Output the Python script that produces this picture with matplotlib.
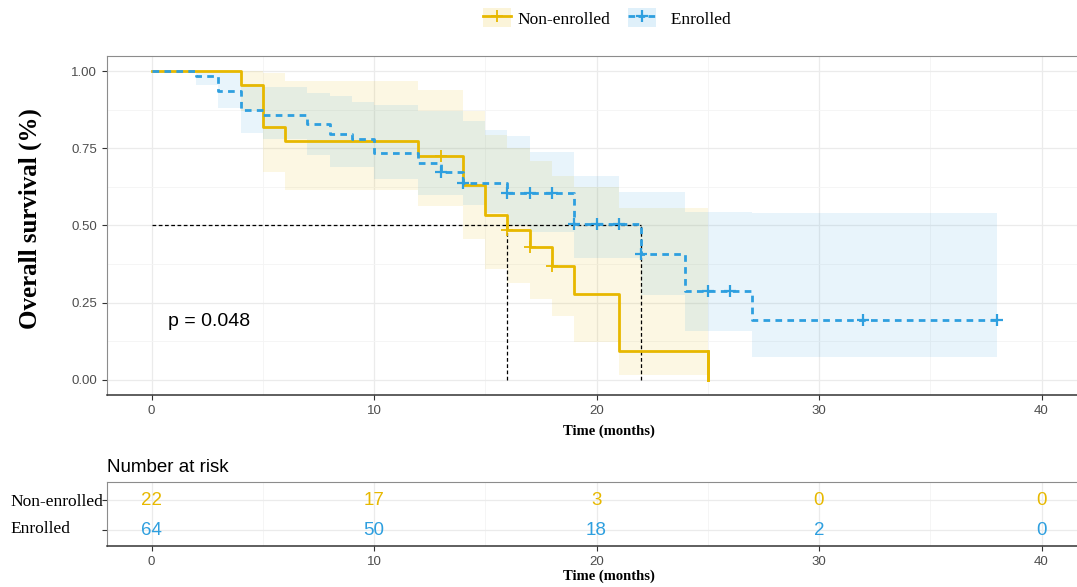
"""Kaplan-Meier overall survival: enrolled vs non-enrolled, with risk table."""

import numpy as np
import matplotlib

matplotlib.use("Agg")
import matplotlib.pyplot as plt
from matplotlib.lines import Line2D
from matplotlib.patches import Patch
from matplotlib.legend_handler import HandlerTuple

# Non-enrolled (step times, survival, CI)
gold_time = [0, 4, 5, 6, 12, 14, 15, 16, 17, 18, 19, 21, 25]
gold_surv = [1.0, 0.955, 0.818, 0.773, 0.727, 0.630, 0.533, 0.485, 0.431, 0.369, 0.277, 0.092, 0.0]
gold_upper = [1.0, 1.0, 0.996, 0.969, 0.939, 0.871, 0.794, 0.753, 0.708, 0.660, 0.624, 0.556, 0.556]
gold_lower = [1.0, 0.871, 0.672, 0.616, 0.563, 0.456, 0.358, 0.312, 0.262, 0.207, 0.123, 0.015, 0.015]
gold_cens_time = [13, 16, 17, 18]
gold_cens_surv = [0.727, 0.485, 0.431, 0.369]

# Enrolled
blue_time = [0, 2, 3, 4, 5, 7, 8, 9, 10, 12, 13, 14, 16, 19, 22, 24, 27, 38]
blue_surv = [1.0, 0.984, 0.938, 0.875, 0.859, 0.828, 0.797, 0.781, 0.734, 0.703, 0.672, 0.638,
             0.604, 0.505, 0.406, 0.289, 0.194, 0.194]
blue_cens_time = [13, 14, 16, 17, 18, 19, 20, 21, 22, 25, 26, 32, 38]
blue_cens_surv = [0.672, 0.638, 0.604, 0.604, 0.604, 0.505, 0.505, 0.505, 0.406, 0.289, 0.289,
                  0.194, 0.194]
blue_band_time = [0, 2, 3, 4, 5, 7, 8, 9, 10, 12, 14, 15, 16, 17, 19, 21, 22, 24, 27, 38]
blue_upper = [1.0, 1.0, 1.0, 0.96, 0.95, 0.93, 0.92, 0.90, 0.89, 0.87, 0.84, 0.81, 0.79, 0.74,
              0.66, 0.61, 0.61, 0.545, 0.54, 0.54]
blue_lower = [1.0, 0.955, 0.88, 0.80, 0.78, 0.73, 0.69, 0.69, 0.65, 0.60, 0.565, 0.54, 0.50, 0.48,
              0.393, 0.393, 0.273, 0.159, 0.072, 0.072]

median_times = [16, 22]
p_label = "p = 0.048"

risk_times = [0, 10, 20, 30, 40]
risk_non = [22, 17, 3, 0, 0]
risk_enr = [64, 50, 18, 2, 0]

GOLD = "#E7B800"
BLUE = "#2E9FDF"
SANS = "Liberation Sans"
SERIF = "Liberation Serif"
TICK_COL = "#4D4D4D"

W, H = 1077, 587


def px_axes(fig, left, top, right, bottom):
    return fig.add_axes([left / W, 1 - bottom / H, (right - left) / W, (bottom - top) / H])


def style_panel(ax):
    ax.set_xlim(-2, 42)
    ax.set_xticks([0, 10, 20, 30, 40])
    ax.set_xticks([5, 15, 25, 35], minor=True)
    ax.grid(which="major", color="#EBEBEB", lw=0.9)
    ax.grid(which="minor", color="#F4F4F4", lw=0.6)
    ax.set_axisbelow(True)
    for side in ("left", "top", "right"):
        ax.spines[side].set_color("#8C8C8C")
        ax.spines[side].set_linewidth(0.8)
    ax.spines["bottom"].set_color("#333333")
    ax.spines["bottom"].set_linewidth(1.1)
    ax.tick_params(which="major", length=3.5, color="#333333", labelcolor=TICK_COL, labelsize=9.5)
    ax.tick_params(which="minor", length=0)
    for lab in ax.get_xticklabels() + ax.get_yticklabels():
        lab.set_fontfamily(SANS)


fig = plt.figure(figsize=(W / 100, H / 100), dpi=100)

# ---- survival panel
ax = px_axes(fig, 107, 56, 1086, 395)
ax.fill_between(gold_time, gold_lower, gold_upper, step="post", color=GOLD, alpha=0.11, lw=0)
ax.fill_between(blue_band_time, blue_lower, blue_upper, step="post", color=BLUE, alpha=0.11, lw=0)

ax.hlines(0.5, 0, max(median_times), colors="black", linestyles=(0, (3, 2)), lw=0.9)
ax.vlines(median_times, 0, 0.5, colors="black", linestyles=(0, (3, 2)), lw=0.9)

ax.step(gold_time, gold_surv, where="post", color=GOLD, lw=2.0, zorder=4)
ax.plot([gold_time[-1], gold_time[-1]], [gold_surv[-2], gold_surv[-1]], color=GOLD, lw=2.0, zorder=4)
ax.step(blue_time, blue_surv, where="post", color=BLUE, lw=2.0, ls=(0, (2.4, 1.9)), zorder=5)
ax.plot(gold_cens_time, gold_cens_surv, ls="none", marker="+", ms=9, mew=1.3, color=GOLD, zorder=6)
ax.plot(blue_cens_time, blue_cens_surv, ls="none", marker="+", ms=9, mew=1.6, color=BLUE, zorder=6)

ax.text(0.75, 0.19, p_label, fontsize=14, family=SANS, ha="left", va="center")

ax.set_ylim(-0.05, 1.05)
ax.set_yticks([0, 0.25, 0.5, 0.75, 1.0])
ax.set_yticklabels(["0.00", "0.25", "0.50", "0.75", "1.00"])
ax.set_yticks([0.125, 0.375, 0.625, 0.875], minor=True)
style_panel(ax)
ax.set_ylabel("Overall survival (%)", fontsize=18, family=SERIF, fontweight="bold")
ax.yaxis.set_label_coords(-0.066, 0.52)
ax.set_xlabel("Time (months)", fontsize=10.5, family=SERIF, fontweight="bold")
ax.xaxis.set_label_coords(0.513, -0.087)

handles = [
    (Patch(facecolor=GOLD, alpha=0.15, lw=0), Line2D([], [], color=GOLD, lw=2, marker="+", ms=9, mew=1.3)),
    (Patch(facecolor=BLUE, alpha=0.15, lw=0), Line2D([], [], color=BLUE, lw=2, ls=(0, (2.4, 1.2)), marker="+", ms=9, mew=1.6)),
]
fig.legend(handles, ["Non-enrolled", "  Enrolled"], handler_map={tuple: HandlerTuple(ndivide=1)},
           loc="center", bbox_to_anchor=(607 / W, 1 - 18 / H), ncol=2, frameon=False,
           prop={"family": SERIF, "size": 12.5}, handlelength=1.6, handleheight=1.3,
           handletextpad=0.4, columnspacing=1.0)

# ---- risk table
rt = px_axes(fig, 107, 482, 1086, 546)
rows = {2: (risk_non, GOLD), 1: (risk_enr, BLUE)}
for y, (vals, col) in rows.items():
    for t, v in zip(risk_times, vals):
        rt.text(t, y, str(v), color=col, fontsize=13.5, family=SANS, ha="center", va="center")
rt.set_ylim(0.47, 2.6)
rt.set_yticks([2, 1])
rt.set_yticklabels([])
rt.grid(axis="y", color="#EBEBEB", lw=0.9)
style_panel(rt)
rt.set_xlabel("Time (months)", fontsize=10.5, family=SERIF, fontweight="bold")
rt.xaxis.set_label_coords(0.513, -0.37)
rt.set_title("Number at risk", loc="left", fontsize=13.5, family=SANS, pad=7)
fig.text(10 / W, 1 - 502 / H, "Non-enrolled", family=SERIF, fontsize=12.5, ha="left", va="center")
fig.text(10 / W, 1 - 529 / H, "Enrolled", family=SERIF, fontsize=12.5, ha="left", va="center")

fig.savefig("out.png", dpi=100)
